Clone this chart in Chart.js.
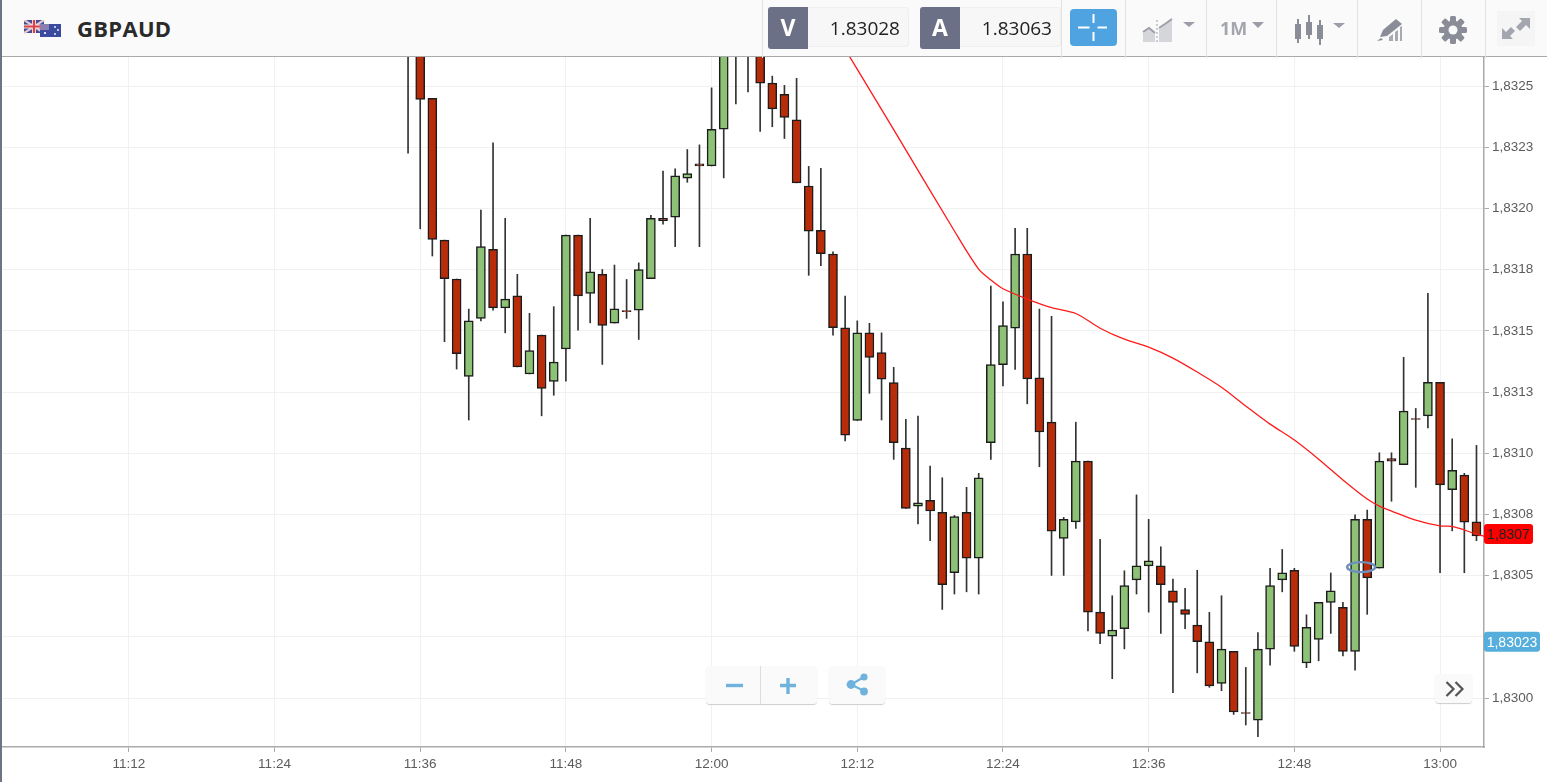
<!DOCTYPE html>
<html lang="en">
<head>
<meta charset="UTF-8">
<title>GBPAUD</title>
<script src="https://cdn.jsdelivr.net/npm/chart.js"></script>
<style>
    html, body { margin: 0; padding: 0; background: #fff; overflow: hidden; }
    #wrap { position: relative; width: 1547px; height: 782px; font-family: "Open Sans", sans-serif; }
    #myChart { position: absolute; left: 0; top: 0; }
    #leftEdge { position: absolute; left: 0; top: 0; width: 2px; height: 782px; background: #6e7386; }
    #bar { position: absolute; left: 0; top: 0; width: 1547px; height: 56px; background: #fafafa; border-bottom: 1px solid #aaa; }
    .sep { position: absolute; top: 0; width: 1px; height: 58px; background: #e2e2e2; }
    #symbol { position: absolute; left: 77px; top: 12px; font-size: 22px; line-height: 32px; font-weight: 700; color: #2a2a2a; letter-spacing: .3px; }
    .tag { position: absolute; top: 7px; width: 40px; height: 42px; line-height: 41px; text-align: center; background: #6c7086; color: #fff; font-weight: 700; font-size: 23px; border-radius: 3px 0 0 3px; }
    .val { position: absolute; top: 7px; width: 101px; height: 40px; line-height: 41px; text-align: right; box-sizing: border-box; padding-right: 8px; background: #f7f7f7; border: 1px solid #efefef; border-left: 0; border-radius: 0 4px 4px 0; color: #222; font-size: 19px; }
    #cross { position: absolute; left: 1070px; top: 9px; width: 47px; height: 37px; background: #4fa3e0; border-radius: 4px; }
    svg.ic { position: absolute; }
    #oneM { position: absolute; left: 1220px; top: 14px; font-size: 18px; line-height: 28px; font-weight: 700; color: #a3a6ae; }
    .btn { position: absolute; top: 666px; height: 38px; background: rgba(250,250,250,.92); border-radius: 4px; box-shadow: 0 1px 1px #ccc; }
</style>
</head>
<body>
<div id="wrap">
    <canvas id="myChart" width="1547" height="782"></canvas>
    <div id="bar">
        <svg class="ic" style="left:24px;top:20px" width="37" height="18" viewBox="0 0 37 18">
            <rect x="0" y="0" width="20" height="13" fill="#3f4f9b"/>
            <path d="M0 0L20 13M20 0L0 13" stroke="#e8c8cc" stroke-width="2.2"/>
            <path d="M10 0V13M0 6.5H20" stroke="#f4e4e4" stroke-width="4"/>
            <path d="M10 0V13M0 6.5H20" stroke="#d8434a" stroke-width="2.2"/>
            <rect x="16" y="4" width="21" height="13" fill="#3a4a9f"/>
            <rect x="16" y="4" width="9" height="6" fill="#8a7fb0"/>
            <circle cx="31" cy="7" r=".9" fill="#fff"/><circle cx="34" cy="10" r=".9" fill="#fff"/>
            <circle cx="31" cy="14" r=".9" fill="#fff"/><circle cx="21" cy="13" r="1.1" fill="#fff"/>
        </svg>
        <div id="symbol">GBPAUD</div>
        <div class="sep" style="left:762px"></div>
        <div class="tag" style="left:768px">V</div>
        <div class="val" style="left:808px">1.83028</div>
        <div class="tag" style="left:920px">A</div>
        <div class="val" style="left:960px">1.83063</div>
        <div class="sep" style="left:1061px"></div>
        <div id="cross">
            <svg class="ic" style="left:8px;top:3px" width="31" height="31" viewBox="0 0 31 31">
                <path d="M0 15.5H11.5M19.5 15.5H29M15.5 2V11M15.5 20V29" stroke="#fff" stroke-width="2"/>
            </svg>
        </div>
        <div class="sep" style="left:1125px"></div>
        <svg class="ic" style="left:1142px;top:17px" width="54" height="26" viewBox="0 0 54 26">
            <path d="M1 25V16L7 12L13 17V25Z" fill="#d5d6da"/>
            <path d="M17 25V12L23 8L30 3V25Z" fill="#d5d6da"/>
            <path d="M1 15L7 11L13 16" fill="none" stroke="#9b9ea8" stroke-width="2"/>
            <path d="M17 11L23 7L30 2" fill="none" stroke="#9b9ea8" stroke-width="2"/>
            <path d="M15 3V25" stroke="#9b9ea8" stroke-width="1" stroke-dasharray="2 2"/>
            <path d="M41 5H53L47 10Z" fill="#9b9ea8"/>
        </svg>
        <div class="sep" style="left:1206px"></div>
        <div id="oneM">1M</div>
        <svg class="ic" style="left:1251px;top:22px" width="14" height="7" viewBox="0 0 14 7"><path d="M1 0H13L7 6Z" fill="#9b9ea8"/></svg>
        <div class="sep" style="left:1276px"></div>
        <svg class="ic" style="left:1294px;top:14px" width="52" height="32" viewBox="0 0 52 32">
            <path d="M4 5V29M15 1V25M26 6V31" stroke="#8a8d97" stroke-width="2"/>
            <rect x="1" y="10" width="6" height="15" fill="#8a8d97"/>
            <rect x="12" y="8" width="6" height="13" fill="#8a8d97"/>
            <rect x="23" y="11" width="6" height="14" fill="#8a8d97"/>
            <path d="M39 9H51L45 14Z" fill="#9b9ea8"/>
        </svg>
        <div class="sep" style="left:1357px"></div>
        <svg class="ic" style="left:1376px;top:18px" width="28" height="24" viewBox="0 0 28 24">
            <path d="M20 1L26 6L11 18L4 19L7 12Z" fill="#8a8d97"/>
            <path d="M1 23L5 20L7 22Z" fill="#8a8d97"/>
            <path d="M13 23V19L17 16V23ZM19 23V14L22 12V23ZM24 23V9L26 8V23Z" fill="#a8aab2"/>
        </svg>
        <div class="sep" style="left:1421px"></div>
        <svg class="ic" style="left:1439px;top:16px" width="28" height="28" viewBox="0 0 28 28">
            <g fill="#8a8d97">
                <rect x="11" y="0" width="6" height="28" rx="1.5"/>
                <rect x="11" y="0" width="6" height="28" rx="1.5" transform="rotate(45 14 14)"/>
                <rect x="11" y="0" width="6" height="28" rx="1.5" transform="rotate(90 14 14)"/>
                <rect x="11" y="0" width="6" height="28" rx="1.5" transform="rotate(135 14 14)"/>
            </g>
            <circle cx="14" cy="14" r="9.5" fill="#8a8d97"/>
            <circle cx="14" cy="14" r="4.5" fill="#fafafa"/>
        </svg>
        <div class="sep" style="left:1485px"></div>
        <svg class="ic" style="left:1497px;top:11px" width="38" height="35" viewBox="0 0 38 35">
            <rect width="38" height="35" fill="#f5f5f5"/>
            <path d="M22 7H33V18L29 14L23 20L19 16L25 10Z" fill="#a3a6ae"/>
            <path d="M5 17L9 21L14 16L18 20L13 25L16 28H5Z" fill="#a3a6ae"/>
        </svg>
    </div>
    <div id="leftEdge"></div>

    <div class="btn" style="left:706px;width:111px"></div>
    <div style="position:absolute;left:760px;top:666px;width:1px;height:38px;background:#ddd"></div>
    <svg class="ic" style="left:725px;top:676px" width="72" height="20" viewBox="0 0 72 20">
        <path d="M1 9.5H18" stroke="#6fb3dd" stroke-width="3.4"/>
        <path d="M55 9.5H71M63 2V18" stroke="#6fb3dd" stroke-width="3.4"/>
    </svg>
    <div class="btn" style="left:829px;width:56px"></div>
    <svg class="ic" style="left:845px;top:672px" width="25" height="25" viewBox="0 0 25 25">
        <path d="M19 5L6 12.5L19 19" stroke="#6fb3dd" stroke-width="2.2" fill="none"/>
        <circle cx="19" cy="5" r="3.6" fill="#6fb3dd"/>
        <circle cx="6" cy="12.5" r="4.4" fill="#6fb3dd"/>
        <circle cx="19" cy="19.5" r="3.9" fill="#6fb3dd"/>
    </svg>
    <div class="btn" style="left:1435px;top:674px;width:37px;height:29px"></div>
    <svg class="ic" style="left:1445px;top:681px" width="20" height="16" viewBox="0 0 20 16">
        <path d="M1.5 1L8.5 8L1.5 15M10.5 1L17.5 8L10.5 15" stroke="#555" stroke-width="2.2" fill="none"/>
    </svg>
</div>
<script>
    // minutes since midnight, one candle per minute (11:35 to 13:03)
    const minutes = [695,696,697,698,699,700,701,702,703,704,705,706,707,708,709,710,711,712,713,714,715,716,717,718,719,720,721,722,723,724,725,726,727,728,729,730,731,732,733,734,735,736,737,738,739,740,741,742,743,744,745,746,747,748,749,750,751,752,753,754,755,756,757,758,759,760,761,762,763,764,765,766,767,768,769,770,771,772,773,774,775,776,777,778,779,780,781,782,783];
    // first candles run off the top of the chart, their bodies are estimates
    const opens = [1.83285,1.83275,1.83245,1.831871,1.831712,1.831314,1.831551,1.831833,1.831594,1.831643,1.831324,1.831483,1.831294,1.831426,1.831891,1.831653,1.831731,1.831532,1.831583,1.831585,1.831713,1.83196,1.831965,1.832124,1.832183,1.832174,1.832324,1.83275,1.83285,1.83275,1.832512,1.832466,1.832362,1.832092,1.831911,1.831814,1.831513,1.831134,1.831492,1.831411,1.831289,1.831021,1.830784,1.830808,1.830759,1.830512,1.830759,1.830571,1.831043,1.831362,1.831511,1.831814,1.831308,1.831127,1.830652,1.83072,1.830968,1.830351,1.830253,1.830283,1.830483,1.83054,1.83054,1.830438,1.830361,1.830298,1.83023,1.83006,1.830191,1.829941,1.82991,1.8302,1.830483,1.830522,1.830143,1.83024,1.830391,1.830371,1.830191,1.83073,1.830531,1.830978,1.830953,1.831142,1.831153,1.83129,1.830851,1.830911,1.83072];
    const highs = [1.83295,1.83285,1.83245,1.831871,1.831712,1.831589,1.831994,1.832268,1.83196,1.831731,1.831572,1.831483,1.831599,1.831891,1.831891,1.83196,1.831751,1.831769,1.83171,1.831778,1.831972,1.832153,1.832162,1.832241,1.83226,1.832493,1.8328,1.83295,1.83295,1.8328,1.832541,1.832503,1.832532,1.832172,1.832164,1.831823,1.831642,1.831541,1.831531,1.831492,1.831351,1.831139,1.831152,1.830948,1.8309,1.830746,1.830861,1.830918,1.831683,1.831619,1.831919,1.831919,1.831589,1.83156,1.830738,1.831127,1.830968,1.830648,1.830418,1.83052,1.83083,1.83073,1.830618,1.830486,1.830448,1.830522,1.83035,1.830418,1.830191,1.830125,1.830267,1.83053,1.830607,1.83053,1.83034,1.830391,1.830511,1.830391,1.830749,1.830768,1.831002,1.831002,1.831392,1.831183,1.831653,1.83129,1.831059,1.830918,1.831032];
    const lows = [1.832226,1.831917,1.831806,1.831456,1.831344,1.831136,1.831541,1.831585,1.831492,1.831353,1.831324,1.831153,1.831237,1.831295,1.831503,1.831533,1.831363,1.831532,1.831551,1.831465,1.831713,1.831936,1.831844,1.832107,1.831844,1.832174,1.832125,1.832427,1.832476,1.832315,1.832334,1.832286,1.832105,1.831727,1.831766,1.831483,1.831051,1.831134,1.831245,1.831136,1.830975,1.830775,1.830711,1.830643,1.830362,1.830425,1.830434,1.830425,1.830975,1.831275,1.831343,1.831202,1.830945,1.830501,1.830501,1.830693,1.830274,1.830222,1.830079,1.830201,1.830425,1.830351,1.830264,1.830022,1.830283,1.830103,1.830044,1.83003,1.829933,1.82989,1.829842,1.830134,1.830434,1.830191,1.830124,1.830152,1.830264,1.830172,1.830114,1.830342,1.830531,1.830804,1.830953,1.830861,1.831104,1.830512,1.830683,1.830512,1.830643];
    const closes = [1.83275,1.832446,1.831874,1.831713,1.831407,1.831541,1.831844,1.831594,1.83163,1.831353,1.83142,1.831265,1.831373,1.831891,1.831643,1.831741,1.831522,1.83159,1.831579,1.831751,1.83196,1.83195,1.832134,1.832143,1.832174,1.832324,1.8327,1.83285,1.83275,1.832512,1.832407,1.832372,1.832105,1.831907,1.831815,1.831513,1.831074,1.831492,1.831392,1.831303,1.831043,1.830775,1.830798,1.830764,1.830463,1.830741,1.830571,1.8309,1.831362,1.831522,1.831814,1.831304,1.831087,1.830682,1.83073,1.830968,1.830351,1.830264,1.830278,1.830459,1.83054,1.830561,1.830463,1.830391,1.830342,1.83023,1.83005,1.8302,1.829943,1.829937,1.8302,1.830459,1.830512,1.830211,1.830289,1.830391,1.830438,1.830191,1.83073,1.830491,1.830968,1.830968,1.831172,1.831138,1.83129,1.830871,1.83093,1.830719,1.830662];

    // moving average (red line)
    const maMinutes = [730,735,740,742,743,744,746,748,750,752,754,756,758,760,762,764,766,768,770,772,774,775,776,778,780,781,783,784];
    const maValues = [1.832733,1.832322,1.831908,1.831752,1.831708,1.831672,1.83163,1.831595,1.831571,1.831511,1.831466,1.831434,1.831389,1.831332,1.83127,1.831193,1.831119,1.831054,1.830976,1.830891,1.830813,1.830784,1.830764,1.830727,1.830703,1.830701,1.83067,1.830656];

    const yTicks = [1.83,1.83025,1.8305,1.83075,1.831,1.83125,1.8315,1.83175,1.832,1.83225,1.8325];
    const yTickLabels = ['1,8300','1,8303','1,8305','1,8308','1,8310','1,8313','1,8315','1,8318','1,8320','1,8323','1,8325'];
    const xTicks = [672,684,696,708,720,732,744,756,768,780];
    const xTickLabels = ['11:12','11:24','11:36','11:48','12:00','12:12','12:24','12:36','12:48','13:00'];

    const lastMa = 1.83067, lastMaLabel = '1,8307';
    const bid = 1.83023, bidLabel = '1,83023';
    const markerTime = 773.5, markerPrice = 1.830535;

    const UP = '#8cc176', DOWN = '#b82c0a';
    const TICK_FONT = { family: '"Liberation Sans", Arial, sans-serif', size: 13.5 };

    // price tags on the axis and the little ellipse on the chart
    const overlayPlugin = {
        id: 'overlay',
        afterDraw(chart) {
            const c = chart.ctx, xs = chart.scales.x, ys = chart.scales.y;
            c.save();
            c.strokeStyle = '#6d90bd';
            c.lineWidth = 2.4;
            c.beginPath();
            c.ellipse(xs.getPixelForValue(markerTime), ys.getPixelForValue(markerPrice), 14, 5, 0, 0, Math.PI * 2);
            c.stroke();

            c.textBaseline = 'middle';
            c.font = '14px "Liberation Sans", Arial, sans-serif';
            function tag(value, text, w, bg, fg) {
                const y = ys.getPixelForValue(value);
                c.fillStyle = bg;
                c.beginPath();
                c.roundRect(chart.chartArea.right, y - 10, w, 20, 3);
                c.fill();
                c.fillStyle = fg;
                c.textAlign = 'center';
                c.fillText(text, chart.chartArea.right + w / 2, y + 1);
            }
            tag(lastMa, lastMaLabel, 49, '#ff0000', '#222');
            tag(bid, bidLabel, 56, '#55aedb', '#fff');
            c.restore();
        }
    };

    new Chart(document.getElementById('myChart').getContext('2d'), {
        type: 'bar',
        data: {
            datasets: [
                {
                    type: 'line',
                    data: maMinutes.map((m, i) => ({ x: m, y: maValues[i] })),
                    borderColor: '#ff1a1a',
                    borderWidth: 1.3,
                    pointRadius: 0,
                    tension: 0.3,
                    order: 0
                },
                {
                    data: minutes.map((m, i) => ({ x: m, y: [opens[i], closes[i]] })),
                    backgroundColor: minutes.map((m, i) => closes[i] >= opens[i] ? UP : DOWN),
                    borderColor: '#1c1c1c',
                    borderWidth: 1.5,
                    borderSkipped: false,
                    barThickness: 9,
                    order: 1
                },
                {
                    data: minutes.map((m, i) => ({ x: m, y: [lows[i], highs[i]] })),
                    backgroundColor: '#333',
                    barThickness: 1,
                    order: 2
                }
            ]
        },
        options: {
            responsive: false,
            animation: false,
            events: [],
            layout: { padding: { top: 57, left: 0, right: 0, bottom: 0 } },
            plugins: { legend: { display: false }, tooltip: { enabled: false } },
            datasets: { bar: { grouped: false } },
            scales: {
                x: {
                    type: 'linear',
                    offset: false,
                    min: 661.39,
                    max: 783.62,
                    afterBuildTicks: axis => { axis.ticks = xTicks.map(v => ({ value: v })); },
                    afterFit: axis => { axis.height = 35; },
                    border: { color: '#aaa', width: 1.5 },
                    grid: { color: '#f1f1f1', offset: false, tickColor: '#aaa', tickLength: 5 },
                    ticks: {
                        maxRotation: 0,
                        autoSkip: false,
                        padding: 4,
                        color: '#5c5c5c',
                        font: TICK_FONT,
                        callback: (v, i) => xTickLabels[i]
                    }
                },
                y: {
                    position: 'right',
                    min: 1.8298,
                    max: 1.832619,
                    afterBuildTicks: axis => { axis.ticks = yTicks.map(v => ({ value: v })); },
                    afterFit: axis => { axis.width = 63; },
                    border: { color: '#aaa', width: 1.5 },
                    grid: { color: '#f1f1f1', tickColor: '#aaa', tickLength: 5 },
                    ticks: {
                        autoSkip: false,
                        padding: 3,
                        color: '#5c5c5c',
                        font: TICK_FONT,
                        callback: (v, i) => yTickLabels[i]
                    }
                }
            }
        },
        plugins: [overlayPlugin]
    });
</script>
</body>
</html>
